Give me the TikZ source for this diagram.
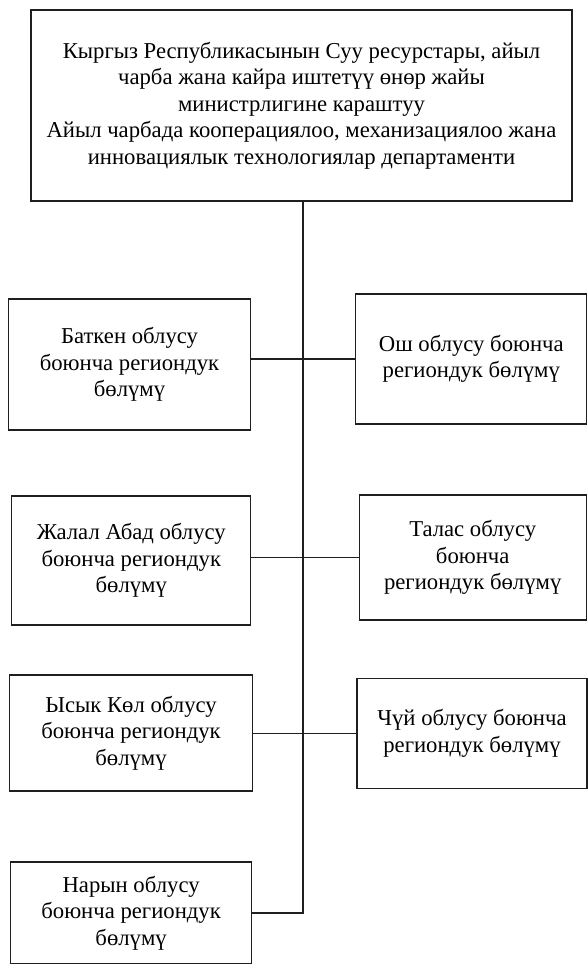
\documentclass[tikz,border=0pt]{standalone}
\usepackage{fontspec}
\setmainfont{Liberation Serif}
\definecolor{inkGray}{rgb}{0.12, 0.12, 0.12}

\begin{document}
\begin{tikzpicture}[x=1pt, y=-1pt,
        unit/.style={draw=inkGray, line width=1.1pt, align=center, inner sep=0pt,
            font=\fontsize{22.7}{26.4}\selectfont},
        link/.style={draw=inkGray, line width=1.1pt}]
            \useasboundingbox (0,0) rectangle (588,964);
            \clip (0,0) rectangle (588,964);

            % department
            \node[unit, minimum width=541pt, minimum height=191pt] (dept) at (301.5,105.5)
                {Кыргыз Республикасынын Суу ресурстары, айыл\\чарба жана кайра иштетүү өнөр жайы\\министрлигине караштуу\\Айыл чарбада кооперациялоо, механизациялоо жана\\инновациялык технологиялар департаменти};

            % left column
            \node[unit, minimum width=242pt, minimum height=131pt] (batken) at (129.5,364.5)
                {Баткен облусу\\боюнча региондук\\бөлүмү};
            \node[unit, minimum width=239pt, minimum height=129pt] (zhalal) at (131.3,560.5)
                {Жалал Абад облусу\\боюнча региондук\\бөлүмү};
            \node[unit, minimum width=243pt, minimum height=116pt] (ysyk) at (131,733)
                {Ысык Көл облусу\\боюнча региондук\\бөлүмү};
            \node[unit, minimum width=241pt, minimum height=102pt] (naryn) at (131.1,913)
                {Нарын облусу\\боюнча региондук\\бөлүмү};

            % right column
            \node[unit, minimum width=231pt, minimum height=130pt] (osh) at (471.3,359)
                {Ош облусу боюнча\\региондук бөлүмү};
            \node[unit, minimum width=227pt, minimum height=125pt] (talas) at (472.7,557.5)
                {Талас облусу\\боюнча\\региондук бөлүмү};
            \node[unit, minimum width=230pt, minimum height=110pt] (chui) at (472,733.3)
                {Чүй облусу боюнча\\региондук бөлүмү};

            % trunk
            \coordinate (trunkEnd) at (303,913);
            \draw[link] (dept.south -| trunkEnd) -- (trunkEnd) -- (naryn.east);

            % branches
            \draw[link] (batken.east |- osh.west) -- (osh.west);
            \draw[link] (zhalal.east |- talas.west) -- (talas.west);
            \draw[link] (ysyk.east |- chui.west) -- (chui.west);

        \end{tikzpicture}
\end{document}
